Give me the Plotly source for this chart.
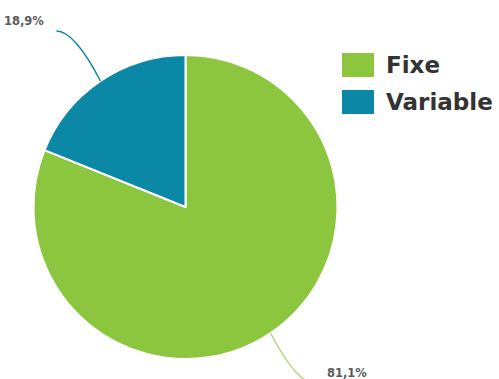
import math
import plotly.graph_objects as go

# Cost structure split
categories = ["Fixe", "Variable"]
shares = [81.1, 18.9]
colors = ["#8cc63f", "#0a88a6"]
connector_colors = ["#b2d47f", "#0a88a6"]

W, H = 499, 379
cx, cy, r = 185.5, 207.0, 152.0  # pie centre and radius in pixels


def px(x):
    return x / W


def py(y):
    return 1 - y / H


fig = go.Figure(
    go.Pie(
        labels=categories,
        values=shares,
        sort=False,
        direction="clockwise",
        rotation=0,
        marker=dict(colors=colors, line=dict(color="white", width=2)),
        textinfo="none",
        hoverinfo="label+percent",
        showlegend=False,
        domain=dict(x=[px(cx - r), px(cx + r)], y=[py(cy + r), py(cy - r)]),
    )
)

shapes = []
annotations = []

# Outside labels with curved connectors, placed from each slice's mid-angle
total = sum(shares)
start = 0.0
for name, v, lc in zip(categories, shares, connector_colors):
    mid = (start + v / 2) / total * 2 * math.pi
    start += v
    sx, sy = math.sin(mid), -math.cos(mid)
    ex, ey = cx + r * sx, cy + r * sy
    dx = 1 if sx >= 0 else -1
    dy = 1 if sy >= 0 else -1
    kx, ky = ex + 26 * dx, ey + 50 * dy
    tx, ty = ex + 44 * dx, ey + 50 * dy
    shapes.append(
        dict(
            type="path",
            xref="paper",
            yref="paper",
            path=f"M {px(ex)},{py(ey)} Q {px(kx)},{py(ky)} {px(tx)},{py(ty)}",
            line=dict(color=lc, width=1.5),
        )
    )
    label = f"{v:.1f}".replace(".", ",") + "%"
    annotations.append(
        dict(
            text=f"<b>{label}</b>",
            xref="paper",
            yref="paper",
            x=px(tx + 10 * dx),
            y=py(ty - 10),
            xanchor="left" if dx > 0 else "right",
            yanchor="middle",
            showarrow=False,
            font=dict(family="DejaVu Sans", size=11.5, color="#5a5a5a"),
        )
    )

# Legend drawn as coloured blocks with bold names
for i, (name, c) in enumerate(zip(categories, colors)):
    top = 53 + i * 37
    shapes.append(
        dict(
            type="rect",
            xref="paper",
            yref="paper",
            x0=px(342),
            x1=px(374),
            y0=py(top + 24),
            y1=py(top),
            fillcolor=c,
            line=dict(width=0),
        )
    )
    annotations.append(
        dict(
            text=f"<b>{name}</b>",
            xref="paper",
            yref="paper",
            x=px(384),
            y=py(top + 12),
            xanchor="left",
            yanchor="middle",
            showarrow=False,
            font=dict(family="DejaVu Sans", size=23, color="#333333"),
        )
    )

fig.update_layout(
    width=W,
    height=H,
    margin=dict(l=0, r=0, t=0, b=0),
    paper_bgcolor="white",
    plot_bgcolor="white",
    shapes=shapes,
    annotations=annotations,
)

fig.write_html("out.html")
